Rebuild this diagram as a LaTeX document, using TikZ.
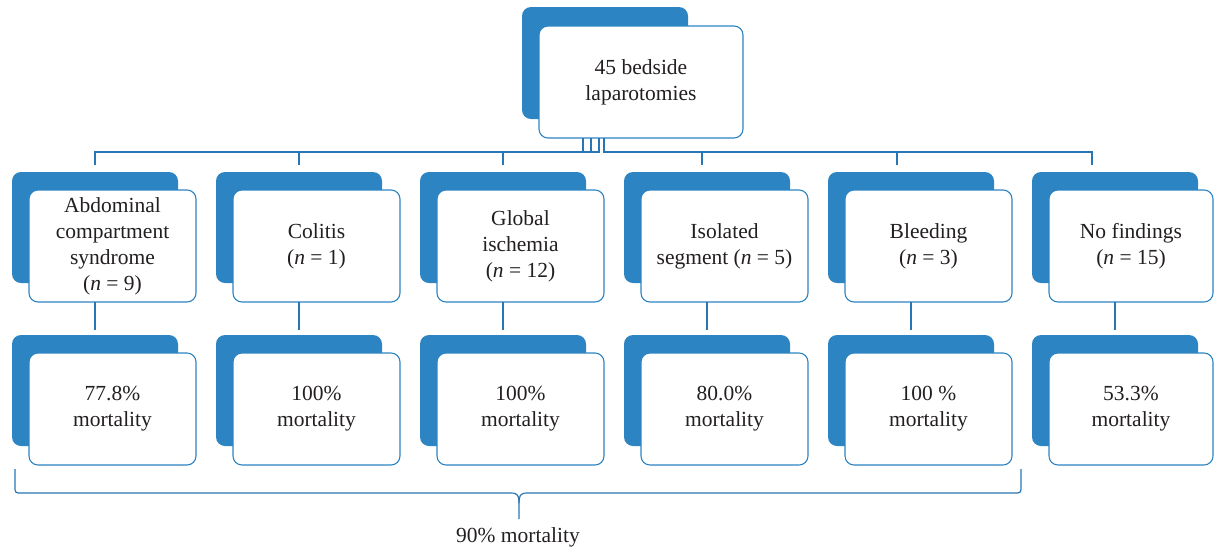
\documentclass[tikz,border=0pt]{standalone}
\usepackage{fontspec}
\setmainfont{Liberation Serif}
\usetikzlibrary{calc}
\definecolor{boxblue}{RGB}{44,132,194}
\definecolor{lineblue}{RGB}{40,118,180}
\definecolor{txt}{RGB}{35,31,32}
\begin{document}
\begin{tikzpicture}[x=1pt,y=-1pt,
  backbox/.style={fill=boxblue, rounded corners=9pt, inner sep=0pt, outer sep=0pt, anchor=north west, minimum width=166pt, minimum height=111pt},
  frontbox/.style={fill=white, draw=boxblue, line width=1.1pt, rounded corners=9pt, inner sep=0pt, outer sep=0pt, anchor=north west, minimum width=167pt, minimum height=112pt, align=center, text=txt, font=\fontsize{21.5}{26}\selectfont},
  conn/.style={draw=lineblue, line width=1.2pt},
  lbl/.style={text=txt, font=\fontsize{21.5}{26}\selectfont}]
\useasboundingbox (0,0) rectangle (1215,550);

% top node
\node[backbox, minimum height=112pt] (topback) at (522,7) {};
\node[frontbox, minimum width=204pt] (top) at (539,26) {45 bedside\\laparotomies};

% row 1
\node[backbox] (b1) at (12,172) {};
\node[frontbox] (f1) at (29,190) {Abdominal\\compartment\\syndrome\\(\textit{n} = 9)};
\node[backbox] (b2) at (216,172) {};
\node[frontbox] (f2) at (233,190) {Colitis\\(\textit{n} = 1)};
\node[backbox] (b3) at (420,172) {};
\node[frontbox] (f3) at (437,190) {Global\\ischemia\\(\textit{n} = 12)};
\node[backbox] (b4) at (624,172) {};
\node[frontbox] (f4) at (641,190) {Isolated\\segment (\textit{n} = 5)};
\node[backbox] (b5) at (828,172) {};
\node[frontbox] (f5) at (845,190) {Bleeding\\(\textit{n} = 3)};
\node[backbox] (b6) at (1032,172) {};
\node[frontbox, minimum width=164pt] (f6) at (1049,190) {No findings\\(\textit{n} = 15)};

% row 2
\node[backbox] (c1) at (12,335) {};
\node[frontbox] (g1) at (29,353) {77.8\%\\mortality};
\node[backbox] (c2) at (216,335) {};
\node[frontbox] (g2) at (233,353) {100\%\\mortality};
\node[backbox] (c3) at (420,335) {};
\node[frontbox] (g3) at (437,353) {100\%\\mortality};
\node[backbox] (c4) at (624,335) {};
\node[frontbox] (g4) at (641,353) {80.0\%\\mortality};
\node[backbox] (c5) at (828,335) {};
\node[frontbox] (g5) at (845,353) {100 \%\\mortality};
\node[backbox] (c6) at (1032,335) {};
\node[frontbox, minimum width=164pt] (g6) at (1049,353) {53.3\%\\mortality};

% connectors top -> row 1
\coordinate (p1) at (583,138);
\coordinate (p2) at (591,138);
\coordinate (p3) at (599,138);
\coordinate (p4) at (604,138);
\coordinate (t1) at (95,165);
\coordinate (t2) at (299,165);
\coordinate (t3) at (503,165);
\coordinate (t4) at (702,165);
\coordinate (t5) at (897,165);
\coordinate (t6) at (1092,165);
\draw[conn] (p1) |- ($(t1)+(0,-13)$) -- (t1);
\draw[conn] (p2) |- ($(t2)+(0,-13)$) -- (t2);
\draw[conn] (p3) |- ($(t3)+(0,-13)$) -- (t3);
\draw[conn] (p4) |- ($(t4)+(0,-13)$) -- (t4);
\draw[conn] (p4) |- ($(t5)+(0,-13)$) -- (t5);
\draw[conn] (p4) |- ($(t6)+(0,-13)$) -- (t6);

% connectors row 1 -> row 2
\foreach \i in {1,...,6}{
  \draw[conn, shorten >=5pt] (b\i.north |- f\i.south) -- (c\i.north);
}

% brace
\coordinate (brL) at (15,469);
\coordinate (brR) at (1021,469);
\coordinate (brM) at (519,519);
\draw[conn] (brL) -- (15,486) .. controls (15,493) .. (22,493) -- (511,493) .. controls (518,493) and (519,496) .. (519,503) -- (brM);
\draw[conn] (brR) -- (1021,486) .. controls (1021,493) .. (1014,493) -- (527,493) .. controls (520,493) and (519,496) .. (519,503);
\node[lbl] (tot) at (518,537) {90\% mortality};
\end{tikzpicture}
\end{document}
